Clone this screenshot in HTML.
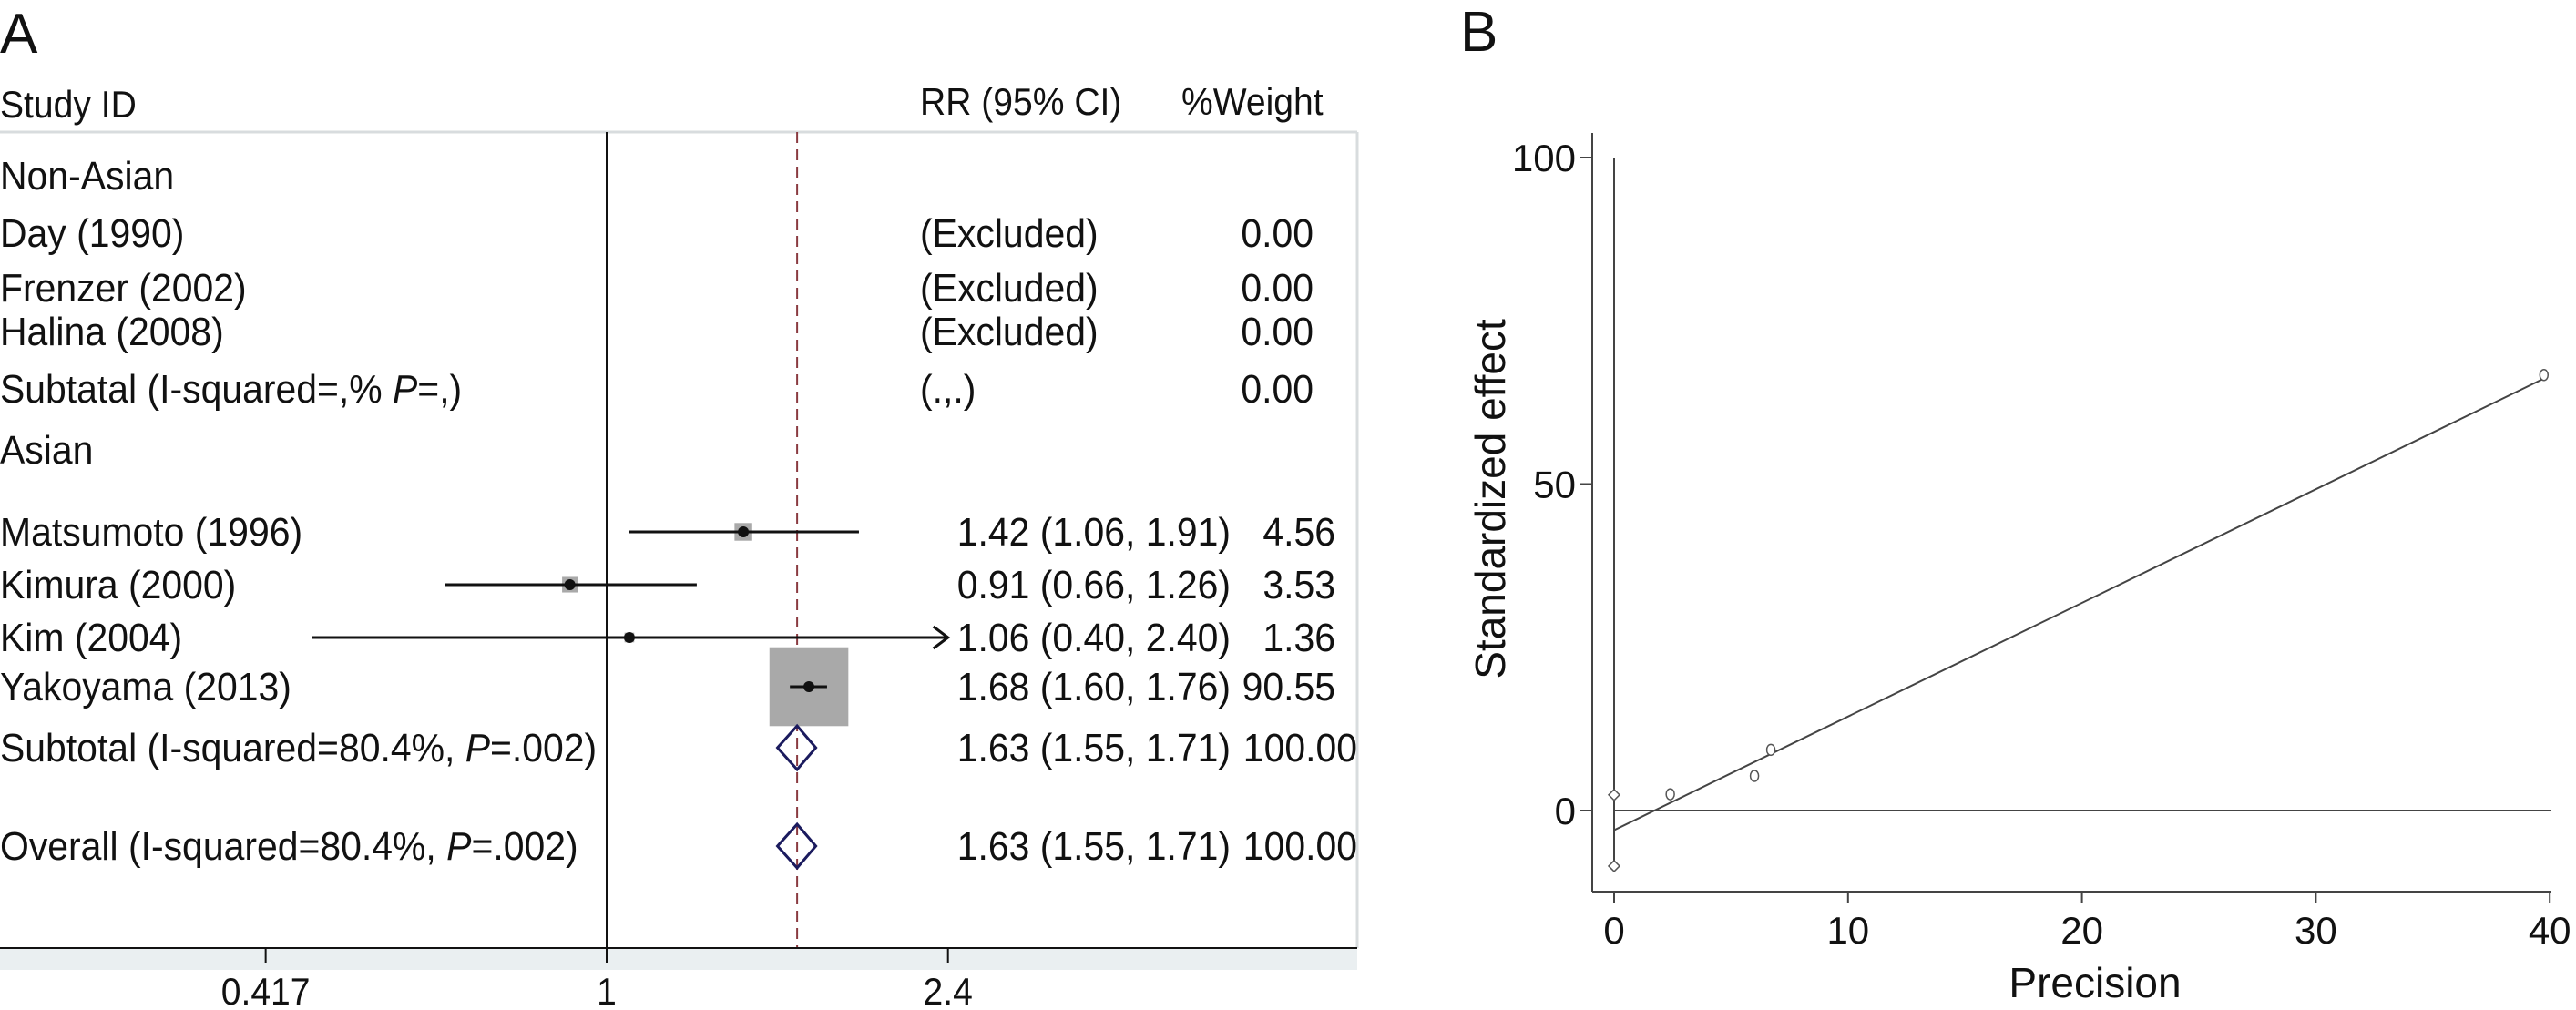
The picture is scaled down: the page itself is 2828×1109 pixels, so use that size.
<!DOCTYPE html>
<html><head><meta charset="utf-8"><style>
html,body{margin:0;padding:0;background:#fff}
svg{display:block}
text{font-family:"Liberation Sans",sans-serif;fill:#111}
</style></head><body>
<svg id="svg" width="2828" height="1109" viewBox="0 0 2828 1109" xmlns="http://www.w3.org/2000/svg">
<g id="pa">
  <text x="0" y="58" font-size="62">A</text>
  <rect x="0" y="1041" width="1490" height="24" fill="#eaeff1"/>
  <line x1="0" y1="145" x2="1490" y2="145" stroke="#d8dcde" stroke-width="3"/>
  <line x1="1490" y1="145" x2="1490" y2="1041" stroke="#d8dcde" stroke-width="3"/>
  <text class="cond" x="0" y="129" font-size="42">Study ID</text>
  <text class="cond" x="1010" y="126" font-size="42">RR (95% CI)</text>
  <text class="cond" x="1297" y="126" font-size="42">%Weight</text>
</g>
<g id="pb">
  <text x="1603" y="56" font-size="62">B</text>
  <text x="0" y="0" font-size="46" text-anchor="middle" transform="translate(1652,548) rotate(-90)">Standardized effect</text>
  <text x="2300" y="1095" font-size="46" text-anchor="middle">Precision</text>
</g>
</svg>
<script>
// ---------- Panel A data ----------
const studyLabels = ["Non-Asian","Day (1990)","Frenzer (2002)","Halina (2008)","Subtatal (I-squared=,% P=,)","Asian","Matsumoto (1996)","Kimura (2000)","Kim (2004)","Yakoyama (2013)","Subtotal (I-squared=80.4%, P=.002)","Overall (I-squared=80.4%, P=.002)"];
const rrText = ["","(Excluded)","(Excluded)","(Excluded)","(.,.)","","1.42 (1.06, 1.91)","0.91 (0.66, 1.26)","1.06 (0.40, 2.40)","1.68 (1.60, 1.76)","1.63 (1.55, 1.71)","1.63 (1.55, 1.71)"];
const weightText = ["","0.00","0.00","0.00","0.00","","4.56","3.53","1.36","90.55","100.00","100.00"];
const studyRR = [1.42, 0.91, 1.06, 1.68];
const studyLo = [1.06, 0.66, 0.40, 1.60];
const studyHi = [1.91, 1.26, 2.40, 1.76];
const studyWeight = [4.56, 3.53, 1.36, 90.55];
const pooledRR = [1.63, 1.63];
const pooledLo = [1.55, 1.55];
const pooledHi = [1.71, 1.71];
const xTickVals = [0.417, 1, 2.4];
const xTickLabels = ["0.417", "1", "2.4"];
const axisMin = 0.47, axisMax = 2.4;

// ---------- Panel B data ----------
const precision = [0, 0, 2.4, 6.0, 6.7, 39.75];
const stdEffect = [2.4, -8.5, 2.5, 5.3, 9.3, 66.7];
const markerShape = ["diamond","diamond","circle","circle","circle","circle"];
const regIntercept = -3.0;
const regSlope = 1.74;
const bXTicks = [0, 10, 20, 30, 40];
const bYTicks = [0, 50, 100];

const NS = "http://www.w3.org/2000/svg";
function mk(tag, attrs, parent, txt) {
  const e = document.createElementNS(NS, tag);
  for (const k in attrs) e.setAttribute(k, attrs[k]);
  if (txt !== undefined) e.textContent = txt;
  parent.appendChild(e);
  return e;
}
const pa = document.getElementById('pa');
const pb = document.getElementById('pb');

// Panel A scales
const rowY = [193, 256, 316, 364, 427, 494, 584, 642, 700, 754, 821, 929];
const xA = v => 666 + 428 * Math.log(v);

let e = mk('line', {x1: xA(1), y1: 145, x2: xA(1), y2: 1041, stroke: '#111', 'stroke-width': 2}, pa);


e = mk('line', {x1: xA(pooledRR[1]), y1: 145, x2: xA(pooledRR[1]), y2: 1041, stroke: '#8a3a40', 'stroke-width': 2, 'stroke-dasharray': '12,7'}, pa);


e = mk('line', {x1: 0, y1: 1041, x2: 1490, y2: 1041, stroke: '#111', 'stroke-width': 2}, pa);


xTickVals.forEach((v, i) => {
  let t = mk('line', {x1: xA(v), y1: 1041, x2: xA(v), y2: 1057, stroke: '#111', 'stroke-width': 2}, pa);
  
  
  t = mk('text', {x: xA(v), y: 1103, 'font-size': 42, 'text-anchor': 'middle', class: 'cond'}, pa, xTickLabels[i]);
  
  
});

studyLabels.forEach((lab, i) => {
  const y = rowY[i] + 15;
  let t;
  if (lab.indexOf('P=') >= 0) {
    t = mk('text', {x: 0, y: y, 'font-size': 44, class: 'cond'}, pa);
    const parts = lab.split('P=');
    mk('tspan', {}, t, parts[0]);
    mk('tspan', {'font-style': 'italic'}, t, 'P');
    mk('tspan', {}, t, '=' + parts[1]);
  } else {
    t = mk('text', {x: 0, y: y, 'font-size': 44, class: 'cond'}, pa, lab);
  }
  
  
  if (rrText[i]) {
    const isExc = rrText[i].startsWith('(');
    t = mk('text', {x: isExc ? 1010 : 1351, y: y, 'font-size': 44, 'text-anchor': isExc ? 'start' : 'end', class: 'cond'}, pa, rrText[i]);
    
    
  }
  if (weightText[i]) {
    const wx = weightText[i].length > 5 ? 1490 : (i < 5 ? 1442 : 1466);
    t = mk('text', {x: wx, y: y, 'font-size': 44, 'text-anchor': 'end', class: 'cond'}, pa, weightText[i]);
    
    
  }
});

studyRR.forEach((v, i) => {
  const y = rowY[6 + i];
  const side = Math.sqrt(studyWeight[i]) * 9.1;
  let b = mk('rect', {x: xA(v) - side / 2, y: y - side / 2, width: side, height: side, fill: '#a9a9a9'}, pa);
  
  
  const lo = Math.max(studyLo[i], axisMin), hi = Math.min(studyHi[i], axisMax);
  b = mk('line', {x1: xA(lo), y1: y, x2: xA(hi), y2: y, stroke: '#111', 'stroke-width': 3}, pa);
  
  
  if (studyHi[i] >= axisMax) {
    b = mk('polyline', {points: `${xA(hi) - 16},${y - 12} ${xA(hi)},${y} ${xA(hi) - 16},${y + 12}`, fill: 'none', stroke: '#111', 'stroke-width': 3}, pa);
    
    
  }
  b = mk('circle', {cx: xA(v), cy: y, r: 6, fill: '#111'}, pa);
  
  
});
pooledRR.forEach((v, i) => {
  const y = rowY[10 + i];
  const d = mk('polygon', {points: `${xA(pooledLo[i])},${y} ${xA(v)},${y - 24} ${xA(pooledHi[i])},${y} ${xA(v)},${y + 24}`, fill: 'none', stroke: '#1b1b5e', 'stroke-width': 3}, pa);
  
  
});

// condense panel A text (reference uses a narrow face)
document.querySelectorAll('text.cond').forEach(t => {
  const w = t.getComputedTextLength();
  t.setAttribute('textLength', (w * 0.93).toFixed(1));
  t.setAttribute('lengthAdjust', 'spacingAndGlyphs');
});

// Panel B scales
const xB = v => 1772 + 25.68 * v;
const yB = v => 890 - 7.17 * v;
e = mk('line', {x1: 1748, y1: 146, x2: 1748, y2: 979, stroke: '#444', 'stroke-width': 2}, pb);


e = mk('line', {x1: 1748, y1: 979, x2: 2801, y2: 979, stroke: '#444', 'stroke-width': 2}, pb);


bYTicks.forEach(v => {
  let t = mk('line', {x1: 1735, y1: yB(v), x2: 1748, y2: yB(v), stroke: '#444', 'stroke-width': 2}, pb);
  
  
  t = mk('text', {x: 1730, y: yB(v) + 15, 'font-size': 42, 'text-anchor': 'end'}, pb, String(v));
  
  
});
bXTicks.forEach(v => {
  let t = mk('line', {x1: xB(v), y1: 979, x2: xB(v), y2: 992, stroke: '#444', 'stroke-width': 2}, pb);
  
  
  t = mk('text', {x: xB(v), y: 1036, 'font-size': 42, 'text-anchor': 'middle'}, pb, String(v));
  
  
});
e = mk('line', {x1: xB(0), y1: yB(0), x2: 2801, y2: yB(0), stroke: '#444', 'stroke-width': 2}, pb);


e = mk('line', {x1: xB(0), y1: yB(bYTicks[2]), x2: xB(0), y2: yB(Math.min(...stdEffect)), stroke: '#444', 'stroke-width': 2}, pb);


const xMaxP = Math.max(...precision);
e = mk('line', {x1: xB(0), y1: yB(regIntercept), x2: xB(xMaxP), y2: yB(regIntercept + regSlope * xMaxP), stroke: '#444', 'stroke-width': 2}, pb);


precision.forEach((p, i) => {
  const cx = xB(p), cy = yB(stdEffect[i]);
  let m;
  if (markerShape[i] === 'diamond') {
    m = mk('polygon', {points: `${cx - 6},${cy} ${cx},${cy - 6} ${cx + 6},${cy} ${cx},${cy + 6}`, fill: '#fff', stroke: '#555', 'stroke-width': 1.5}, pb);
  } else {
    m = mk('ellipse', {cx: cx, cy: cy, rx: 4.5, ry: 6, fill: '#fff', stroke: '#555', 'stroke-width': 1.5}, pb);
  }
  
  
});
</script>
</body></html>
